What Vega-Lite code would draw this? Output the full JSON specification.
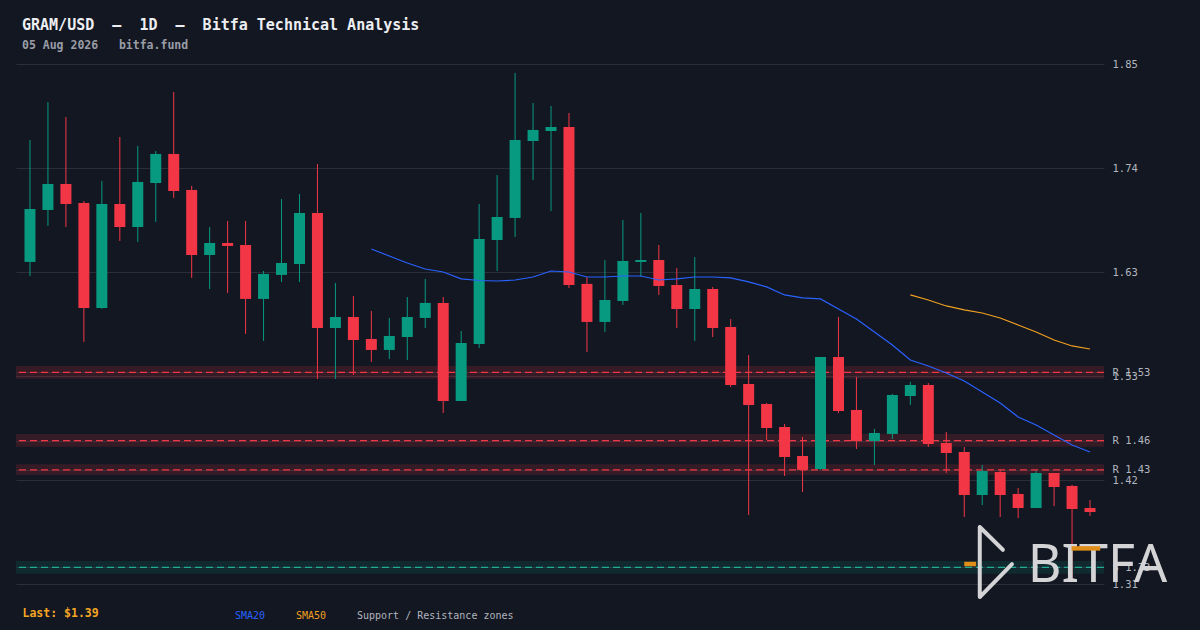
{
  "$schema": "https://vega.github.io/schema/vega-lite/v6.json",
  "width": 1088,
  "height": 520,
  "autosize": {"type": "none"},
  "padding": {"top": 64, "left": 16, "right": 96, "bottom": 46},
  "background": "#131722",
  "config": {"view": {"stroke": null}},
  "title": {
    "text": "GRAM/USD\u00a0\u00a0–\u00a0\u00a01D\u00a0\u00a0–\u00a0\u00a0Bitfa Technical Analysis",
    "subtitle": "05 Aug 2026\u00a0\u00a0\u00a0bitfa.fund",
    "anchor": "start",
    "frame": "group",
    "dx": 6,
    "offset": 8,
    "font": "DejaVu Sans Mono",
    "fontSize": 15,
    "fontWeight": "bold",
    "color": "#eceef2",
    "subtitleFont": "DejaVu Sans Mono",
    "subtitleFontSize": 11.5,
    "subtitleFontWeight": "bold",
    "subtitleColor": "#9a9da6",
    "subtitlePadding": 7
  },
  "datasets": {
    "candles": [
      {"i":1,"o":1.6431,"h":1.7681,"l":1.6287,"c":1.6974},
      {"i":2,"o":1.6964,"h":1.8070,"l":1.6800,"c":1.7230},
      {"i":3,"o":1.7230,"h":1.7917,"l":1.6789,"c":1.7025},
      {"i":4,"o":1.7035,"h":1.7056,"l":1.5611,"c":1.5959},
      {"i":5,"o":1.5959,"h":1.7261,"l":1.5949,"c":1.7025},
      {"i":6,"o":1.7025,"h":1.7712,"l":1.6646,"c":1.6789},
      {"i":7,"o":1.6789,"h":1.7620,"l":1.6636,"c":1.7251},
      {"i":8,"o":1.7240,"h":1.7568,"l":1.6841,"c":1.7538},
      {"i":9,"o":1.7538,"h":1.8173,"l":1.7087,"c":1.7158},
      {"i":10,"o":1.7169,"h":1.7210,"l":1.6267,"c":1.6502},
      {"i":11,"o":1.6502,"h":1.6789,"l":1.6154,"c":1.6625},
      {"i":12,"o":1.6625,"h":1.6851,"l":1.6113,"c":1.6595},
      {"i":13,"o":1.6605,"h":1.6851,"l":1.5693,"c":1.6052},
      {"i":14,"o":1.6052,"h":1.6338,"l":1.5621,"c":1.6308},
      {"i":15,"o":1.6298,"h":1.7076,"l":1.6226,"c":1.6420},
      {"i":16,"o":1.6410,"h":1.7128,"l":1.6226,"c":1.6933},
      {"i":17,"o":1.6933,"h":1.7435,"l":1.5231,"c":1.5754},
      {"i":18,"o":1.5754,"h":1.6216,"l":1.5231,"c":1.5867},
      {"i":19,"o":1.5867,"h":1.6082,"l":1.5272,"c":1.5631},
      {"i":20,"o":1.5641,"h":1.5928,"l":1.5406,"c":1.5529},
      {"i":21,"o":1.5529,"h":1.5857,"l":1.5436,"c":1.5672},
      {"i":22,"o":1.5662,"h":1.6072,"l":1.5426,"c":1.5867},
      {"i":23,"o":1.5857,"h":1.6257,"l":1.5754,"c":1.6011},
      {"i":24,"o":1.6011,"h":1.6072,"l":1.4883,"c":1.5006},
      {"i":25,"o":1.5006,"h":1.5723,"l":1.5006,"c":1.5600},
      {"i":26,"o":1.5590,"h":1.7025,"l":1.5549,"c":1.6666},
      {"i":27,"o":1.6656,"h":1.7322,"l":1.6338,"c":1.6892},
      {"i":28,"o":1.6882,"h":1.8368,"l":1.6687,"c":1.7681},
      {"i":29,"o":1.7671,"h":1.8060,"l":1.7271,"c":1.7784},
      {"i":30,"o":1.7773,"h":1.8030,"l":1.6953,"c":1.7814},
      {"i":31,"o":1.7814,"h":1.7958,"l":1.6164,"c":1.6195},
      {"i":32,"o":1.6206,"h":1.6277,"l":1.5508,"c":1.5816},
      {"i":33,"o":1.5816,"h":1.6451,"l":1.5713,"c":1.6041},
      {"i":34,"o":1.6031,"h":1.6861,"l":1.5990,"c":1.6441},
      {"i":35,"o":1.6431,"h":1.6933,"l":1.6277,"c":1.6451},
      {"i":36,"o":1.6451,"h":1.6605,"l":1.6093,"c":1.6185},
      {"i":37,"o":1.6195,"h":1.6369,"l":1.5754,"c":1.5949},
      {"i":38,"o":1.5949,"h":1.6482,"l":1.5621,"c":1.6154},
      {"i":39,"o":1.6154,"h":1.6175,"l":1.5662,"c":1.5754},
      {"i":40,"o":1.5764,"h":1.5846,"l":1.5149,"c":1.5170},
      {"i":41,"o":1.5180,"h":1.5477,"l":1.3837,"c":1.4965},
      {"i":42,"o":1.4975,"h":1.4985,"l":1.4606,"c":1.4729},
      {"i":43,"o":1.4739,"h":1.4770,"l":1.4237,"c":1.4432},
      {"i":44,"o":1.4442,"h":1.4637,"l":1.4073,"c":1.4299},
      {"i":45,"o":1.4309,"h":1.5457,"l":1.4299,"c":1.5457},
      {"i":46,"o":1.5457,"h":1.5867,"l":1.4883,"c":1.4903},
      {"i":47,"o":1.4914,"h":1.5252,"l":1.4514,"c":1.4596},
      {"i":48,"o":1.4596,"h":1.4719,"l":1.4350,"c":1.4678},
      {"i":49,"o":1.4668,"h":1.5078,"l":1.4616,"c":1.5067},
      {"i":50,"o":1.5057,"h":1.5201,"l":1.4965,"c":1.5170},
      {"i":51,"o":1.5170,"h":1.5190,"l":1.4534,"c":1.4565},
      {"i":52,"o":1.4575,"h":1.4688,"l":1.4268,"c":1.4473},
      {"i":53,"o":1.4483,"h":1.4534,"l":1.3817,"c":1.4042},
      {"i":54,"o":1.4042,"h":1.4350,"l":1.3940,"c":1.4288},
      {"i":55,"o":1.4278,"h":1.4299,"l":1.3817,"c":1.4042},
      {"i":56,"o":1.4053,"h":1.4114,"l":1.3806,"c":1.3909},
      {"i":57,"o":1.3909,"h":1.4288,"l":1.3909,"c":1.4268},
      {"i":58,"o":1.4268,"h":1.4268,"l":1.3929,"c":1.4124},
      {"i":59,"o":1.4135,"h":1.4145,"l":1.3181,"c":1.3899},
      {"i":60,"o":1.3909,"h":1.3991,"l":1.3827,"c":1.3868}
    ],
    "sma": [
      {"i":20,"s":"SMA20","v":1.6564},{"i":21,"s":"SMA20","v":1.6492},{"i":22,"s":"SMA20","v":1.6420},
      {"i":23,"s":"SMA20","v":1.6359},{"i":24,"s":"SMA20","v":1.6328},{"i":25,"s":"SMA20","v":1.6257},
      {"i":26,"s":"SMA20","v":1.6241},{"i":27,"s":"SMA20","v":1.6236},{"i":28,"s":"SMA20","v":1.6246},
      {"i":29,"s":"SMA20","v":1.6277},{"i":30,"s":"SMA20","v":1.6338},{"i":31,"s":"SMA20","v":1.6328},
      {"i":32,"s":"SMA20","v":1.6277},{"i":33,"s":"SMA20","v":1.6277},{"i":34,"s":"SMA20","v":1.6287},
      {"i":35,"s":"SMA20","v":1.6287},{"i":36,"s":"SMA20","v":1.6246},{"i":37,"s":"SMA20","v":1.6257},
      {"i":38,"s":"SMA20","v":1.6277},{"i":39,"s":"SMA20","v":1.6277},{"i":40,"s":"SMA20","v":1.6267},
      {"i":41,"s":"SMA20","v":1.6226},{"i":42,"s":"SMA20","v":1.6175},{"i":43,"s":"SMA20","v":1.6093},
      {"i":44,"s":"SMA20","v":1.6062},{"i":45,"s":"SMA20","v":1.6052},{"i":46,"s":"SMA20","v":1.5949},
      {"i":47,"s":"SMA20","v":1.5846},{"i":48,"s":"SMA20","v":1.5713},{"i":49,"s":"SMA20","v":1.5580},
      {"i":50,"s":"SMA20","v":1.5426},{"i":51,"s":"SMA20","v":1.5365},{"i":52,"s":"SMA20","v":1.5293},
      {"i":53,"s":"SMA20","v":1.5211},{"i":54,"s":"SMA20","v":1.5098},{"i":55,"s":"SMA20","v":1.4985},
      {"i":56,"s":"SMA20","v":1.4842},{"i":57,"s":"SMA20","v":1.4760},{"i":58,"s":"SMA20","v":1.4657},
      {"i":59,"s":"SMA20","v":1.4555},{"i":60,"s":"SMA20","v":1.4483},
      {"i":50,"s":"SMA50","v":1.6093},{"i":51,"s":"SMA50","v":1.6041},{"i":52,"s":"SMA50","v":1.5980},
      {"i":53,"s":"SMA50","v":1.5939},{"i":54,"s":"SMA50","v":1.5908},{"i":55,"s":"SMA50","v":1.5857},
      {"i":56,"s":"SMA50","v":1.5785},{"i":57,"s":"SMA50","v":1.5713},{"i":58,"s":"SMA50","v":1.5631},
      {"i":59,"s":"SMA50","v":1.5570},{"i":60,"s":"SMA50","v":1.5539}
    ],
    "zones": [
      {"k":"R","mid":1.53,"lo":1.5235,"hi":1.5365},
      {"k":"R","mid":1.46,"lo":1.4538,"hi":1.4668},
      {"k":"R","mid":1.43,"lo":1.4248,"hi":1.4358},
      {"k":"S","mid":1.33,"lo":1.3236,"hi":1.3366}
    ],
    "logobars": [
      {"a":58.97,"b":60.57,"y":1.3495},
      {"a":53.0,"b":53.66,"y":1.3335}
    ]
  },
  "layer": [
    {
      "data": {"name": "zones"},
      "mark": {"type": "rect", "fillOpacity": 0.15},
      "encoding": {
        "y": {
          "field": "lo", "type": "quantitative", "title": null,
          "scale": {"domain": [1.313, 1.846], "nice": false, "zero": false},
          "axis": {
            "orient": "right",
            "values": [1.313, 1.4196, 1.5262, 1.6328, 1.7394, 1.846, 1.53, 1.46, 1.43, 1.33],
            "domain": false,
            "ticks": false,
            "labelPadding": 8,
            "labelFont": "DejaVu Sans Mono",
            "labelFontSize": 10.5,
            "labelColor": "#b2b5be",
            "labelOverlap": false,
            "labelFlush": false,
            "labelBound": false,
            "gridColor": "#2a2e39",
            "gridWidth": 1,
            "labelExpr": "(datum.value == 1.53 || datum.value == 1.46 || datum.value == 1.43) ? 'R ' + format(datum.value, '.2f') : datum.value == 1.33 ? 'S ' + format(datum.value, '.2f') : format(datum.value, '.2f')",
            "encode": {
              "labels": {"update": {"fill": {"signal": "datum.value == 1.33 ? '#22ab94' : (datum.value == 1.53 || datum.value == 1.46 || datum.value == 1.43) ? '#f23645' : '#b2b5be'"}}},
              "grid": {"update": {"strokeOpacity": {"signal": "(datum.value == 1.33 || datum.value == 1.53 || datum.value == 1.46 || datum.value == 1.43) ? 0 : 1"}}}
            }
          }
        },
        "y2": {"field": "hi"},
        "color": {"condition": {"test": "datum.k == 'S'", "value": "#089981"}, "value": "#f23645"}
      }
    },
    {
      "data": {"name": "zones"},
      "mark": {"type": "rule", "strokeDash": [7, 4], "strokeWidth": 1.2},
      "encoding": {
        "y": {"field": "mid", "type": "quantitative", "title": null},
        "color": {"condition": {"test": "datum.k == 'S'", "value": "#22ab94"}, "value": "#f23645"}
      }
    },
    {
      "encoding": {
        "x": {
          "field": "i", "type": "quantitative",
          "scale": {"domain": [0.5, 60.5], "nice": false, "zero": false},
          "axis": {
            "labels": false, "ticks": false, "domain": false, "grid": false,
            "title": "Last: $1.39",
            "titleX": 6, "titleY": 29,
            "titleAlign": "left", "titleBaseline": "middle", "titleAngle": 0,
            "titleColor": "#f5a623",
            "titleFont": "DejaVu Sans Mono", "titleFontSize": 11.5, "titleFontWeight": "bold"
          }
        }
      },
      "layer": [
        {
          "data": {"name": "candles"},
          "mark": {"type": "rule", "strokeWidth": 1},
          "encoding": {
            "y": {"field": "l", "type": "quantitative", "title": null},
            "y2": {"field": "h"},
            "color": {"condition": {"test": "datum.c >= datum.o", "value": "#089981"}, "value": "#f23645"}
          }
        },
        {
          "data": {"name": "candles"},
          "mark": {"type": "bar", "size": 11},
          "encoding": {
            "y": {"field": "o", "type": "quantitative", "title": null},
            "y2": {"field": "c"},
            "color": {"condition": {"test": "datum.c >= datum.o", "value": "#089981"}, "value": "#f23645"}
          }
        },
        {
          "data": {"name": "sma"},
          "mark": {"type": "line", "strokeWidth": 1.2},
          "encoding": {
            "y": {"field": "v", "type": "quantitative", "title": null},
            "color": {
              "field": "s", "type": "nominal",
              "scale": {"domain": ["SMA20", "SMA50", "Support / Resistance zones"], "range": ["#2962ff", "#f0a020", "#b2b5be"]},
              "legend": {
                "orient": "none", "legendX": 209, "legendY": 547,
                "direction": "horizontal", "title": null,
                "symbolSize": 0, "symbolOpacity": 0, "symbolStrokeWidth": 0,
                "labelOffset": 0, "columnPadding": 20, "padding": 0,
                "labelFont": "DejaVu Sans Mono", "labelFontSize": 10, "labelLimit": 400,
                "encode": {"labels": {"update": {"fill": {"signal": "datum.value == 'SMA20' ? '#2962ff' : datum.value == 'SMA50' ? '#f0a020' : '#b2b5be'"}}}}
              }
            }
          }
        }
      ]
    },
    {
      "data": {"values": [{"t": "BITFA"}]},
      "mark": {"type": "text", "align": "left", "baseline": "alphabetic", "font": "Noto Sans", "fontSize": 52, "fontWeight": "normal", "color": "#d4d4d6"},
      "encoding": {
        "x": {"datum": 56.53, "type": "quantitative"},
        "y": {"datum": 1.315, "type": "quantitative"},
        "text": {"field": "t"}
      }
    },
    {
      "data": {"values": [{"t": "logo"}]},
      "mark": {"type": "point", "shape": "M -0.46 -1 L -0.46 1 L 0.46 0.06 M -0.46 -1 L 0.2 -0.35", "size": 4900, "filled": false, "stroke": "#d4d4d6", "strokeWidth": 4, "strokeCap": "round", "strokeJoin": "round", "opacity": 1},
      "encoding": {
        "x": {"datum": 54.76, "type": "quantitative"},
        "y": {"datum": 1.3355, "type": "quantitative"}
      }
    },
    {
      "data": {"name": "logobars"},
      "mark": {"type": "rule", "strokeWidth": 4.5, "color": "#e08e1a"},
      "encoding": {
        "x": {"field": "a", "type": "quantitative"},
        "x2": {"field": "b"},
        "y": {"field": "y", "type": "quantitative"}
      }
    }
  ]
}
